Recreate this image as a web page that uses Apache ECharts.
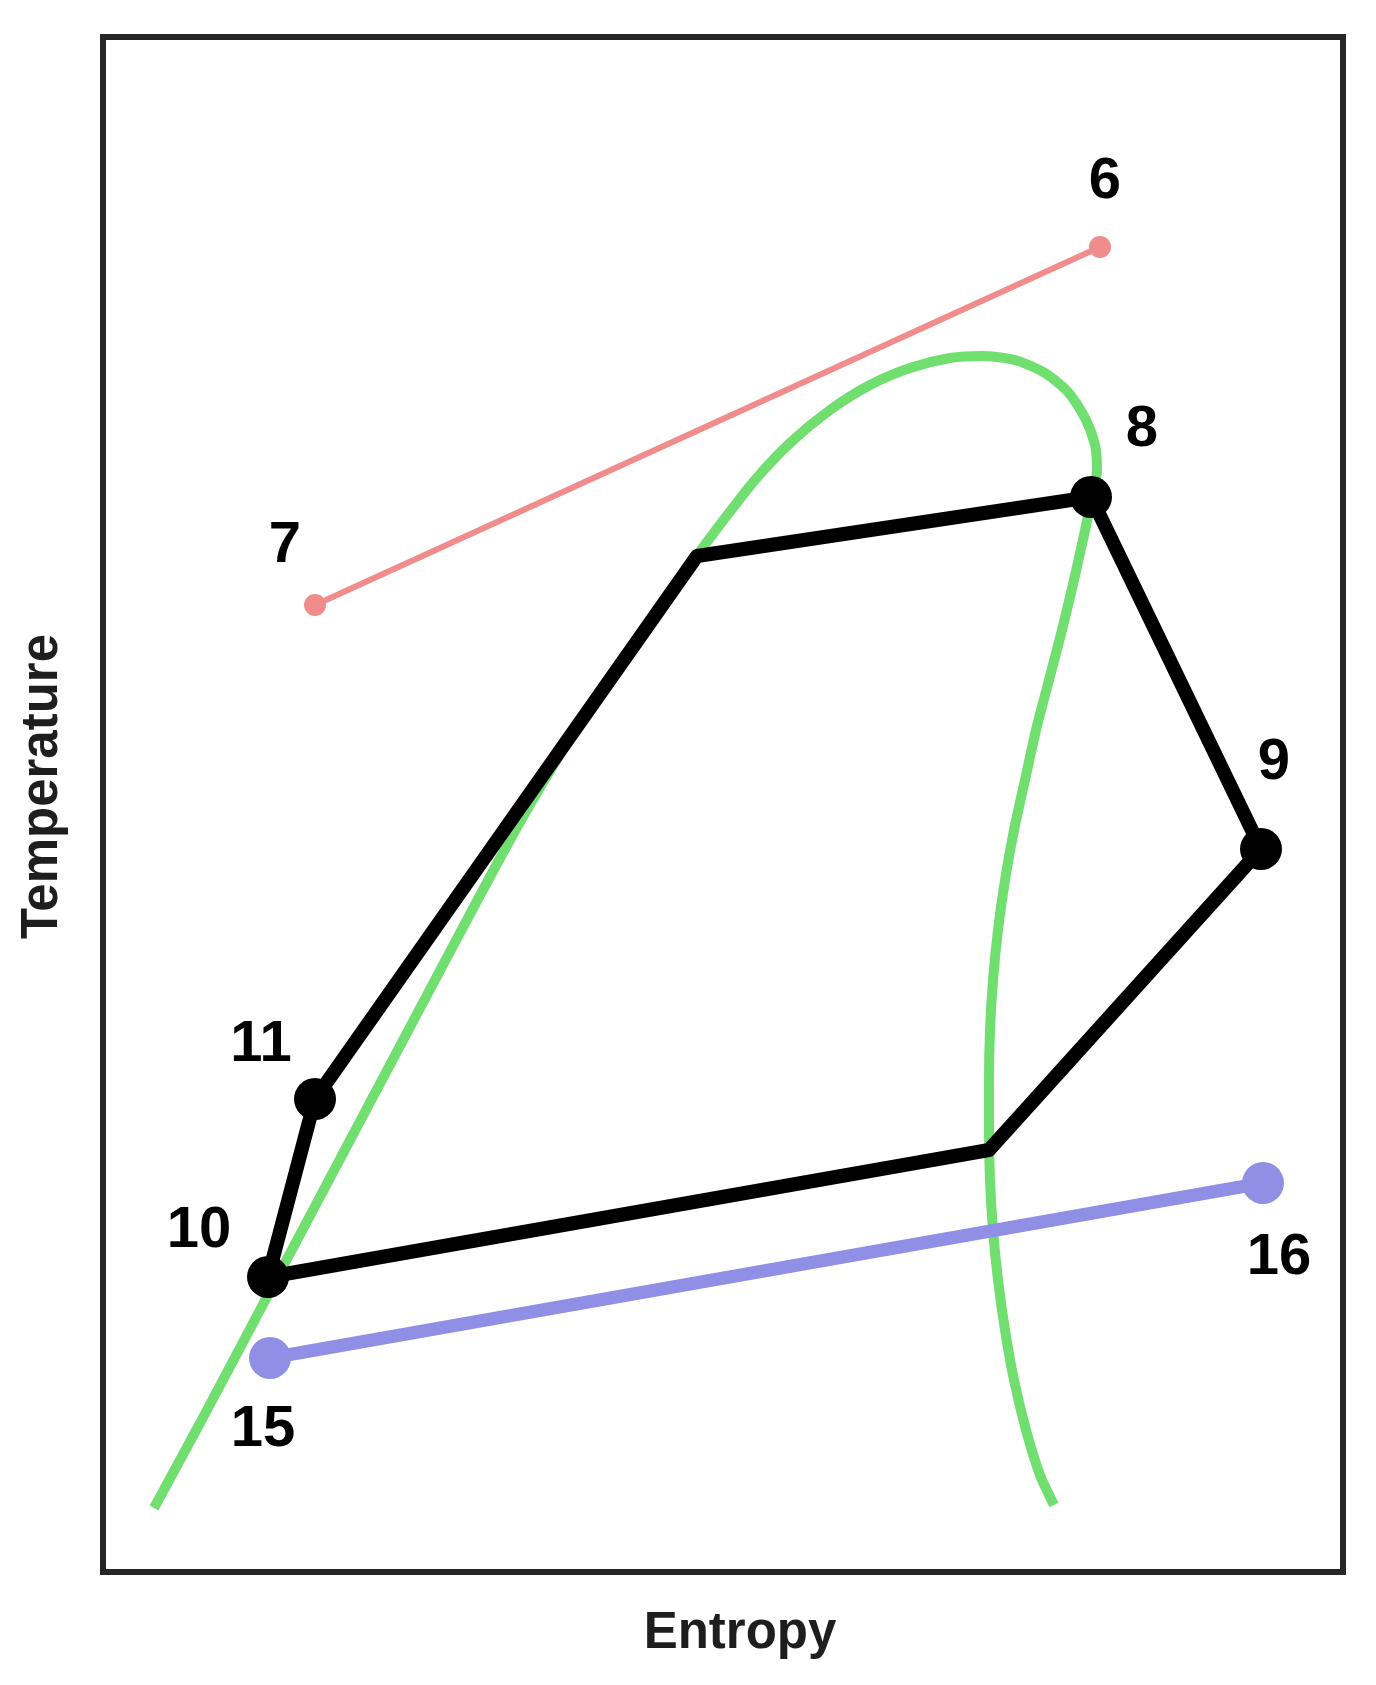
<!DOCTYPE html>
<html>
<head>
<meta charset="utf-8">
<title>T-s diagram</title>
<script src="https://cdn.jsdelivr.net/npm/echarts@6/dist/echarts.min.js"></script>
<style>
  html, body { margin: 0; padding: 0; background: #fff; }
  #chart { width: 1376px; height: 1685px; }
</style>
</head>
<body>
<div id="chart"></div>
<script>
// entropy / temperature in arbitrary units (no scale shown on the figure)

// working fluid cycle: 10 -> 11 -> (sat. liquid) -> 8 -> 9 -> (sat. vapour) -> 10
var cycleNames = ["10", "11", "", "8", "9", "", "10"];
var cycleS = [16.5, 21.2, 59.4, 98.8, 115.8, 88.6, 16.5];
var cycleT = [29.5, 47.3, 101.6, 107.5, 72.3, 42.2, 29.5];

// heat source stream 7 -> 6
var sourceNames = ["7", "6"];
var sourceS = [21.2, 99.7];
var sourceT = [96.7, 132.5];

// cooling stream 15 -> 16
var coolNames = ["15", "16"];
var coolS = [16.7, 116.0];
var coolT = [21.4, 38.9];

// saturation dome: liquid line, top, vapour line
var domeS = [5.1, 10.4, 15.7, 21.0, 26.3, 31.5, 36.7, 41.7, 46.3, 50.9, 55.2, 58.7,
  61.9, 65.2, 68.7, 72.7, 76.7, 80.7, 84.7, 88.0, 91.2, 94.2, 96.5, 98.2,
  99.2, 99.4, 98.9, 98.1, 97.1, 95.9, 94.6, 93.3, 92.2, 91.1, 90.2, 89.5,
  89.0, 88.7, 88.6, 88.6, 88.7, 89.0, 89.5, 90.2, 91.1, 92.3, 93.7, 95.1];
var domeT = [6.4, 16.2, 26.2, 36.2, 46.2, 56.0, 65.8, 75.0, 82.7, 89.4, 95.7, 100.7,
  105.0, 109.2, 112.9, 116.2, 118.7, 120.4, 121.4, 121.6, 121.2, 119.9, 118.0, 115.4,
  112.7, 110.2, 107.5, 103.7, 99.2, 94.2, 89.2, 84.2, 79.2, 74.2, 69.2, 64.2,
  59.2, 54.2, 49.2, 44.2, 39.2, 34.2, 29.2, 24.2, 19.2, 14.2, 9.7, 6.7];

function pairs(xs, ys) {
  return xs.map(function (x, i) { return [x, ys[i]]; });
}

// label offsets (px) around each state point
var labelOffset = {
  "6": [5, -65], "7": [-30, -59], "8": [51, -67], "9": [13, -86],
  "10": [-69, -46], "11": [-54, -54], "15": [-7, 72], "16": [16, 75]
};

function dots(names, xs, ys) {
  var out = [];
  names.forEach(function (n, i) {
    if (!n) return;
    if (out.some(function (d) { return d.name === n; })) return;
    out.push({
      name: n,
      value: [xs[i], ys[i]],
      label: { offset: labelOffset[n] }
    });
  });
  return out;
}

var labelStyle = {
  show: true,
  position: "inside",
  formatter: "{b}",
  color: "#000",
  fontFamily: "Liberation Sans",
  fontWeight: "bold",
  fontSize: 58
};

var titleStyle = {
  fontFamily: "Liberation Sans",
  fontWeight: "bold",
  fontSize: 51,
  color: "#1e1e1e"
};

var chart = echarts.init(document.getElementById("chart"));
chart.setOption({
  backgroundColor: "#fff",
  animation: false,
  grid: {
    left: 103,
    top: 37,
    right: 33,
    bottom: 113,
    show: true,
    borderColor: "#262626",
    borderWidth: 6
  },
  xAxis: {
    type: "value",
    min: 0,
    max: 124,
    name: "Entropy",
    nameLocation: "middle",
    nameGap: 36,
    nameTextStyle: Object.assign({ padding: [0, 0, 0, 34] }, titleStyle),
    axisLine: { show: false },
    axisTick: { show: false },
    axisLabel: { show: false },
    splitLine: { show: false }
  },
  yAxis: {
    type: "value",
    min: 0,
    max: 153.5,
    name: "Temperature",
    nameLocation: "middle",
    nameGap: 35,
    nameTextStyle: Object.assign({ padding: [0, 0, 0, 36] }, titleStyle),
    axisLine: { show: false },
    axisTick: { show: false },
    axisLabel: { show: false },
    splitLine: { show: false }
  },
  series: [
    {
      name: "dome",
      type: "line",
      data: pairs(domeS, domeT),
      smooth: 0.25,
      showSymbol: false,
      lineStyle: { color: "#70df70", width: 10, join: "round" },
      z: 1
    },
    {
      name: "source",
      type: "line",
      data: pairs(sourceS, sourceT),
      showSymbol: false,
      lineStyle: { color: "#f08c8c", width: 6 },
      z: 2
    },
    {
      name: "sourcePts",
      type: "scatter",
      data: dots(sourceNames, sourceS, sourceT),
      symbolSize: 22,
      itemStyle: { color: "#f08c8c", opacity: 1 },
      label: labelStyle,
      z: 2
    },
    {
      name: "cool",
      type: "line",
      data: pairs(coolS, coolT),
      showSymbol: false,
      lineStyle: { color: "#8f8fe6", width: 13 },
      z: 3
    },
    {
      name: "coolPts",
      type: "scatter",
      data: dots(coolNames, coolS, coolT),
      symbolSize: 42,
      itemStyle: { color: "#8f8fe6", opacity: 1 },
      label: labelStyle,
      z: 3
    },
    {
      name: "cycle",
      type: "line",
      data: pairs(cycleS, cycleT),
      showSymbol: false,
      lineStyle: { color: "#000", width: 14, join: "round" },
      z: 4
    },
    {
      name: "cyclePts",
      type: "scatter",
      data: dots(cycleNames, cycleS, cycleT),
      symbolSize: 42,
      itemStyle: { color: "#000", opacity: 1 },
      label: labelStyle,
      z: 5
    }
  ]
});
</script>
</body>
</html>
